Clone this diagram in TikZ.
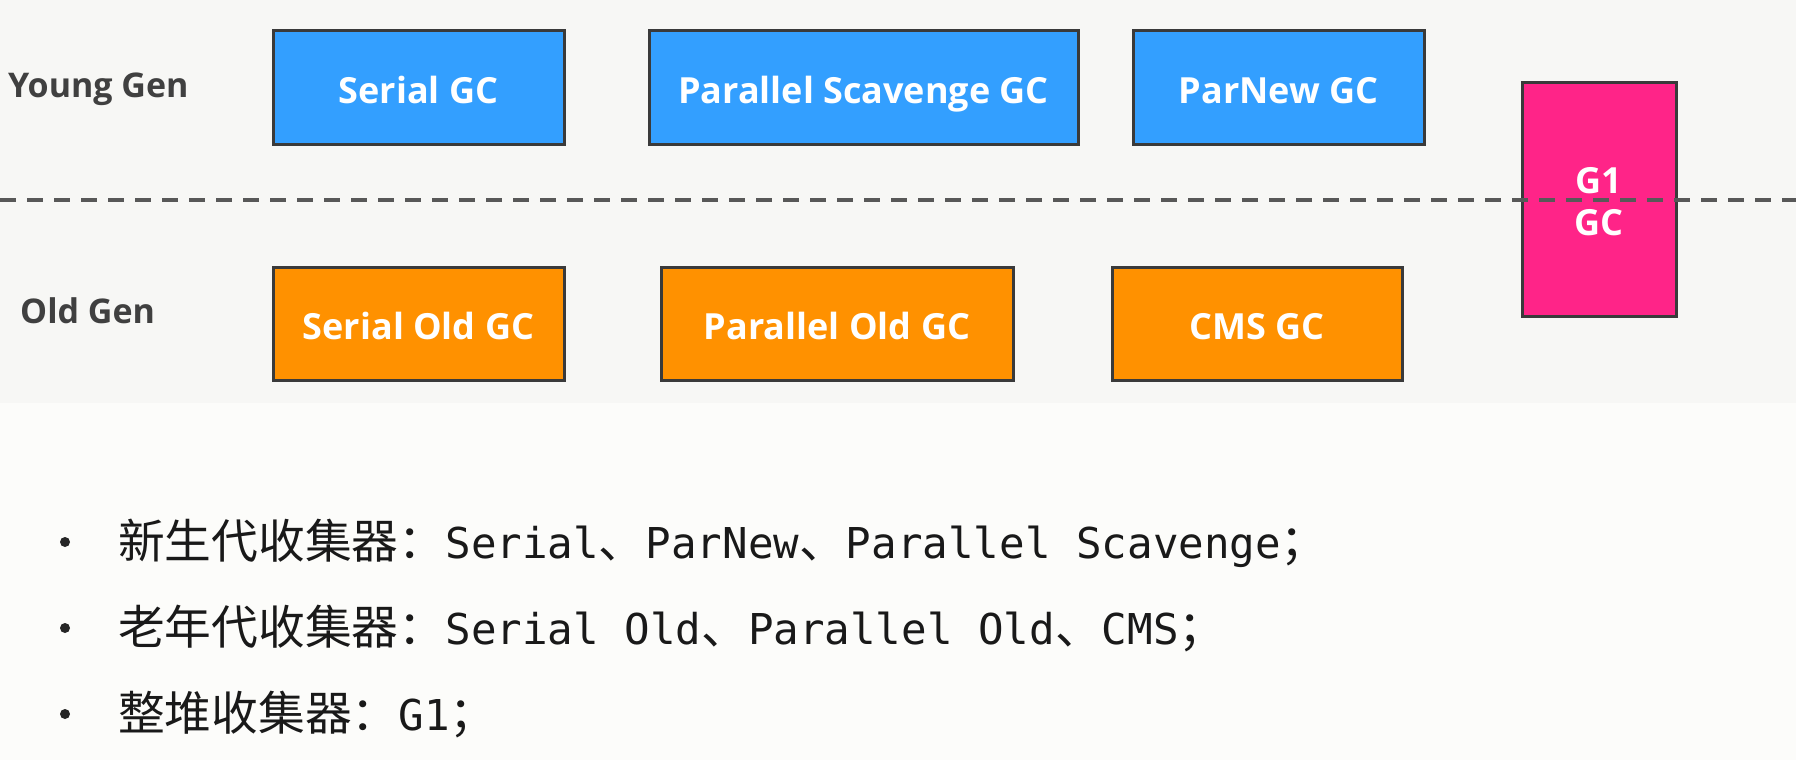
\documentclass[tikz,border=0pt]{standalone}
\usepackage{fontspec}
\setmainfont{Open Sans}
\setmonofont{DejaVu Sans Mono}
\newfontfamily\cjk[Scale=1.10]{Noto Sans CJK SC}
\usetikzlibrary{positioning}

\definecolor{younggc}{RGB}{51,159,255}
\definecolor{oldgc}{RGB}{255,145,0}
\definecolor{wholegc}{RGB}{255,36,136}
\definecolor{edgegray}{RGB}{58,58,58}
\definecolor{panelgray}{RGB}{247,247,245}
\definecolor{pagewhite}{RGB}{252,252,250}
\definecolor{labelgray}{RGB}{64,64,64}

\tikzstyle{collector}=[rectangle, draw=edgegray, line width=3pt, outer sep=0pt,
        inner sep=0pt, text=white, align=center, minimum height=113pt,
        text height=31pt, text depth=0pt,
        font=\fontsize{36}{42}\selectfont\bfseries]
\tikzstyle{young}=[collector, fill=younggc]
\tikzstyle{old}=[collector, fill=oldgc]
\tikzstyle{whole}=[collector, fill=wholegc, text height=73pt]
\tikzstyle{genlabel}=[anchor=base west, inner sep=0pt, text=labelgray,
        font=\fontsize{34}{40}\selectfont\bfseries]
\tikzstyle{divider}=[draw=edgegray!85, line width=4pt, dash pattern=on 16pt off 11pt]
\tikzstyle{dot}=[circle, fill=black!85, inner sep=0pt, minimum size=10pt]
\tikzstyle{item}=[anchor=base west, inner sep=0pt, text=black!90,
        font=\fontsize{42.5}{50}\ttfamily]

\begin{document}
\begin{tikzpicture}[x=1pt, y=-1pt]
        \useasboundingbox (0,0) rectangle (1796,760);
        \fill[panelgray] (0,0) rectangle (1796,403);
        \fill[pagewhite] (0,403) rectangle (1796,760);

        % generation labels
        \node (YoungLabel) [genlabel] at (8,97) {Young Gen};
        \node (OldLabel) [genlabel] at (20,323) {Old Gen};

        % young generation collectors
        \node (SerialGC) [young, minimum width=291pt, anchor=north west] at (273,31) {Serial GC};
        \node (ScavengeGC) [young, minimum width=429pt, right=85pt of SerialGC] {Parallel Scavenge GC};
        \node (ParNewGC) [young, minimum width=291pt, right=55pt of ScavengeGC] {ParNew GC};

        % old generation collectors
        \node (SerialOldGC) [old, minimum width=291pt, anchor=north west] at (273,267) {Serial Old GC};
        \node (ParallelOldGC) [old, minimum width=352pt, right=97pt of SerialOldGC] {Parallel Old GC};
        \node (CMSGC) [old, minimum width=290pt, right=99pt of ParallelOldGC] {CMS GC};

        % whole heap
        \node (G1GC) [whole, minimum width=154pt, minimum height=234pt, anchor=north west] at (1522,82) {G1\\GC};

        \coordinate (DivLeft) at (0,200);
        \coordinate (DivRight) at (1796,200);
        \draw[divider] (DivLeft) -- (DivRight);

        % summary list
        \node (DotNew) [dot] at (65,542) {};
        \node (NewList) [item] at (118,558) {{\cjk 新生代收集器：}Serial{\cjk 、}ParNew{\cjk 、}Parallel Scavenge{\cjk ；}};
        \node (DotOld) [dot] at (65,628) {};
        \node (OldList) [item] at (118,644) {{\cjk 老年代收集器：}Serial Old{\cjk 、}Parallel Old{\cjk 、}CMS{\cjk ；}};
        \node (DotHeap) [dot] at (65,714) {};
        \node (HeapList) [item] at (118,730) {{\cjk 整堆收集器：}G1{\cjk ；}};
\end{tikzpicture}
\end{document}
